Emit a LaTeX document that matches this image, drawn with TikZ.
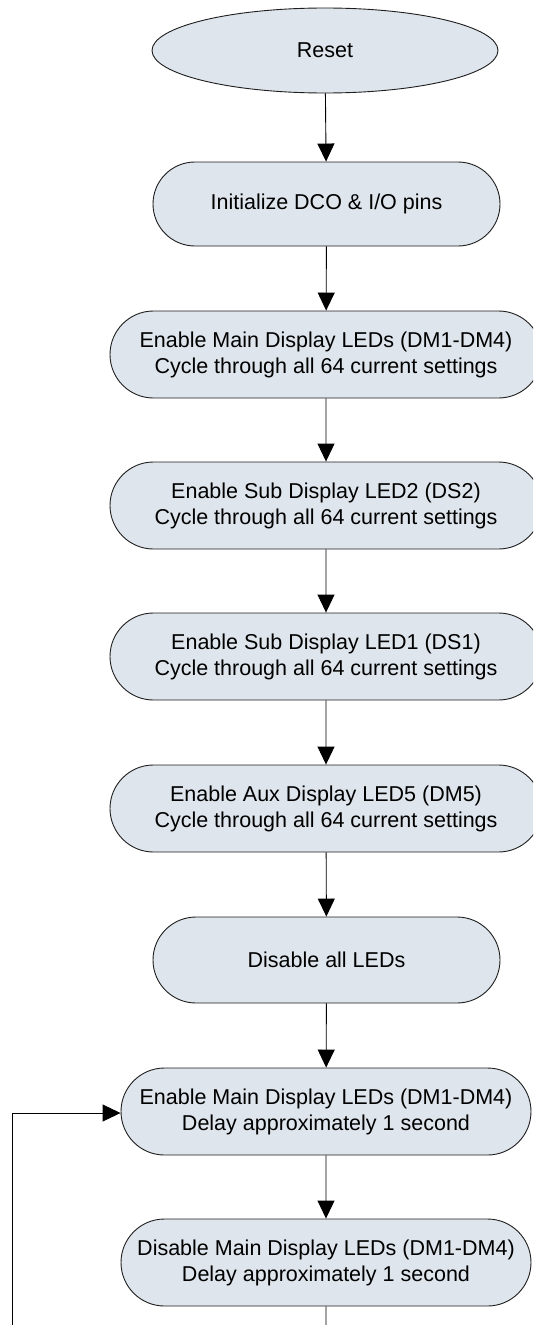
\documentclass[tikz,border=0pt]{standalone}
\usepackage{fontspec}
\setmainfont{Liberation Sans}
\usetikzlibrary{shapes.geometric,shapes.misc,arrows.meta}
\definecolor{boxfill}{RGB}{223,229,236}
\definecolor{boxline}{RGB}{30,30,30}
\tikzset{
  flowtext/.style={font=\fontsize{21.5}{26}\selectfont, align=center, text=black},
  terminal/.style={ellipse, draw=boxline, fill=boxfill, line width=0.9pt, inner sep=0pt, flowtext},
  process/.style={rounded rectangle, draw=boxline, fill=boxfill, line width=0.9pt, inner sep=0pt, flowtext},
  flow/.style={line width=0.9pt, -{Triangle[length=18pt,width=17pt]}},
  plain/.style={line width=0.9pt}
}
\begin{document}
\begin{tikzpicture}[x=1pt,y=-1pt]
  \useasboundingbox (0,0) rectangle (533,1325);
  \clip (0,0) rectangle (533,1325);

  % start
  \node[terminal, minimum width=346pt, minimum height=85pt] (reset) at (325,50.5) {Reset};

  % initialisation and LED sweeps
  \node[process, minimum width=347pt, minimum height=84pt] (init) at (326.5,204) {Initialize DCO \& I/O pins};
  \node[process, minimum width=432pt, minimum height=87pt] (mainsweep) at (326,354.5)
    {Enable Main Display LEDs (DM1-DM4)\\Cycle through all 64 current settings};
  \node[process, minimum width=432pt, minimum height=87pt] (ds2sweep) at (326,505.5)
    {Enable Sub Display LED2 (DS2)\\Cycle through all 64 current settings};
  \node[process, minimum width=432pt, minimum height=87pt] (ds1sweep) at (326,656.5)
    {Enable Sub Display LED1 (DS1)\\Cycle through all 64 current settings};
  \node[process, minimum width=432pt, minimum height=87pt] (dm5sweep) at (326,808.5)
    {Enable Aux Display LED5 (DM5)\\Cycle through all 64 current settings};
  \node[process, minimum width=347pt, minimum height=86pt] (alloff) at (326.5,960) {Disable all LEDs};

  % blink loop
  \node[process, minimum width=410pt, minimum height=87pt] (blinkon) at (326,1111.5)
    {Enable Main Display LEDs (DM1-DM4)\\Delay approximately 1 second};
  \node[process, minimum width=410pt, minimum height=87pt] (blinkoff) at (326,1262.5)
    {Disable Main Display LEDs (DM1-DM4)\\Delay approximately 1 second};

  \coordinate (loopdown) at (326,1325);
  \coordinate (loopfoot) at (12,1325);
  \coordinate (loopcorner) at (12,1113);

  % connectors
  \draw[flow] (reset) -- (init);
  \draw[flow] (init) -- (mainsweep);
  \draw[flow] (mainsweep) -- (ds2sweep);
  \draw[flow] (ds2sweep) -- (ds1sweep);
  \draw[flow] (ds1sweep) -- (dm5sweep);
  \draw[flow] (dm5sweep) -- (alloff);
  \draw[flow] (alloff) -- (blinkon);
  \draw[flow] (blinkon) -- (blinkoff);
  \draw[plain] (blinkoff) -- (loopdown);
  \draw[flow] (loopfoot) -- (loopcorner) -- (blinkon.west |- loopcorner);
\end{tikzpicture}
\end{document}
